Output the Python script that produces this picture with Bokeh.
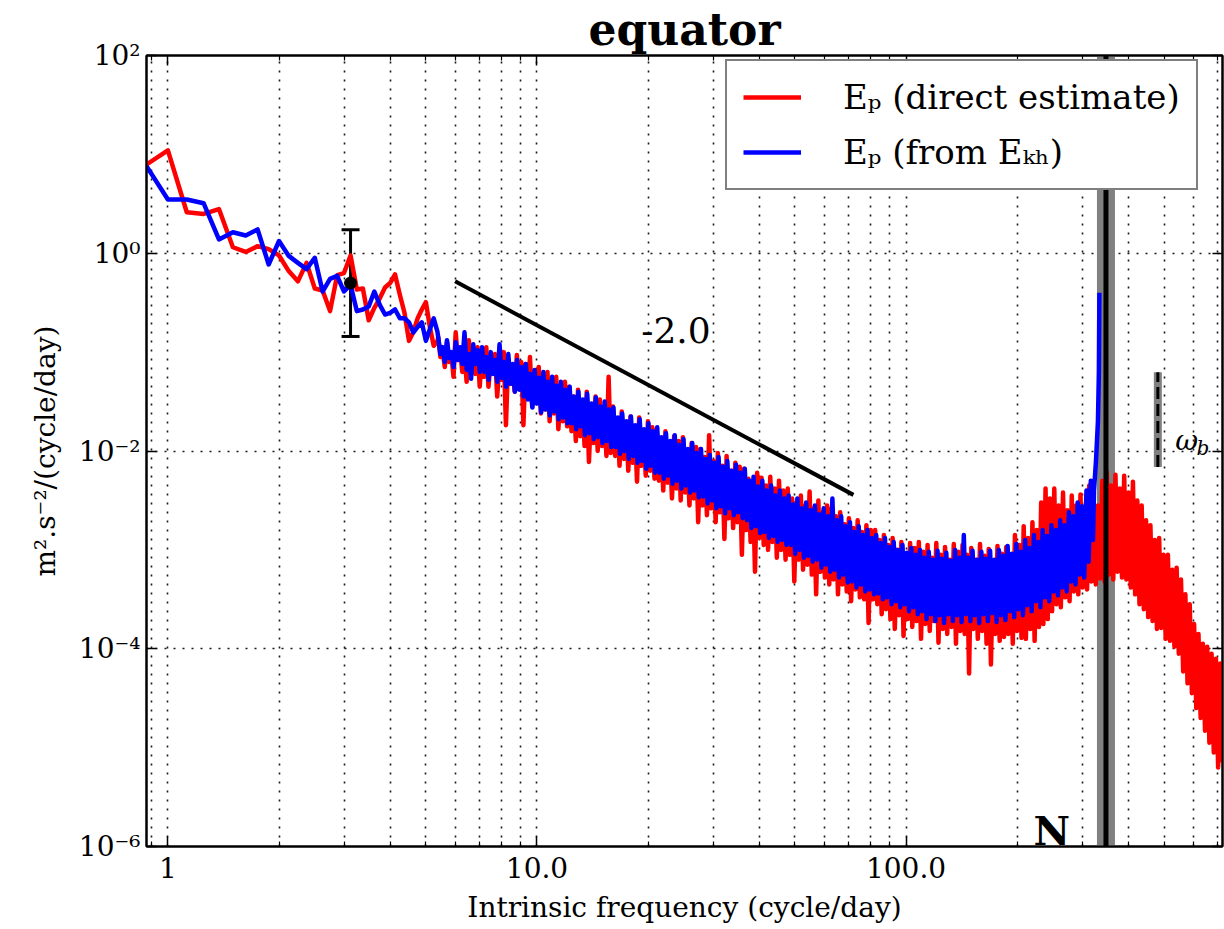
import numpy as np
from bokeh.plotting import figure
from bokeh.models import (Range1d, FixedTicker, CustomJSTickFormatter, LogAxis, Span,
                          Legend, LegendItem, Whisker, TeeHead, ColumnDataSource, Label)
from bokeh.embed import file_html
from bokeh.resources import INLINE

FONT = "DejaVu Serif"

# ---------------- data ----------------
# low-frequency spectral bins (df = 0.125 cycle/day)
freq_low = [0.875 + 0.125 * k for k in range(37)]
ep_direct_low = [7.9, 11.0, 2.6, 2.5, 2.8, 1.15, 1.03, 1.18, 1.1, 0.95,
                 0.66, 0.52, 0.80, 0.44, 0.42, 0.26, 0.60, 0.63, 0.95, 0.43,
                 0.44, 0.21, 0.28, 0.35, 0.45, 0.50, 0.61, 0.38, 0.25, 0.13,
                 0.16, 0.22, 0.27, 0.32, 0.18, 0.116, 0.13]
ep_from_ekh_low = [7.6, 3.5, 3.5, 3.2, 1.38, 1.63, 1.51, 1.74, 0.77, 1.33,
                   0.94, 0.80, 0.69, 0.90, 0.41, 0.55, 0.59, 0.41, 0.48, 0.26,
                   0.27, 0.29, 0.41, 0.30, 0.24, 0.25, 0.27, 0.22, 0.22, 0.20,
                   0.158, 0.18, 0.20, 0.13, 0.17, 0.22, 0.16]

# dense, noisy part: successive peaks and troughs (log10 values),
# the spectrum alternates peak, trough, peak, trough ... on a log-spaced grid
freq_dense_direct = np.geomspace(5.4, 720.0, 360)
ep_direct_peaks_log10 = [
    -0.85, -0.98, -0.90, -1.02, -0.80, -0.97, -1.00, -0.88, -1.05, -0.95,
    -1.00, -0.95, -1.10, -1.02, -1.12, -1.00, -1.08, -1.15, -1.03, -1.10,
    -1.12, -1.05, -1.20, -1.15, -1.28, -1.20, -1.30, -1.25, -1.38, -1.30,
    -1.35, -1.45, -1.38, -1.50, -1.40, -1.55, -1.45, -1.48, -1.60, -1.25,
    -1.55, -1.68, -1.60, -1.72, -1.65, -1.75, -1.66, -1.80, -1.70, -1.76,
    -1.78, -1.88, -1.80, -1.95, -1.85, -1.90, -1.86, -2.00, -1.92, -1.96,
    -1.98, -2.06, -1.84, -2.10, -2.02, -2.15, -2.05, -2.20, -2.12, -2.16,
    -2.18, -2.28, -2.30, -2.22, -2.27, -2.35, -2.26, -2.38, -2.30, -2.40,
    -2.38, -2.48, -2.52, -2.45, -2.55, -2.41, -2.58, -2.50, -2.62, -2.55,
    -2.58, -2.66, -2.62, -2.74, -2.68, -2.78, -2.70, -2.82, -2.75, -2.80,
    -2.80, -2.90, -2.85, -2.95, -2.88, -3.00, -2.92, -3.05, -2.93, -2.98,
    -2.92, -3.02, -2.95, -3.08, -2.93, -3.05, -2.97, -3.10, -2.94, -3.02,
    -2.95, -3.05, -2.98, -3.10, -2.94, -3.06, -2.99, -3.12, -2.96, -3.04,
    -2.97, -3.05, -2.85, -2.95, -2.76, -2.88, -2.72, -2.80, -2.52, -2.38,
    -2.48, -2.38, -2.55, -2.42, -2.60, -2.45, -2.55, -2.44, -2.62, -2.35,
    -2.45, -2.55, -2.30, -2.21, -2.35, -2.24, -2.38, -2.25, -2.42, -2.31,
    -2.50, -2.55, -2.70, -2.75, -2.90, -2.88, -3.05, -3.05, -3.20, -3.18,
    -3.30, -3.45, -3.55, -3.75, -3.85, -3.95, -3.98, -4.05, -4.10, -4.15,
]
ep_direct_troughs_log10 = [
    -1.05, -1.15, -1.10, -1.25, -1.08, -1.20, -1.30, -1.12, -1.22, -1.35,
    -1.25, -1.35, -1.20, -1.45, -1.28, -1.74, -1.32, -1.40, -1.30, -1.74,
    -1.45, -1.55, -1.50, -1.62, -1.58, -1.70, -1.62, -1.78, -1.70, -1.75,
    -1.80, -1.90, -1.85, -1.95, -2.11, -1.92, -2.00, -1.95, -2.05, -2.02,
    -2.05, -2.15, -2.08, -2.20, -2.12, -2.31, -2.15, -2.25, -2.20, -2.28,
    -2.30, -2.40, -2.32, -2.48, -2.38, -2.50, -2.42, -2.55, -2.48, -2.72,
    -2.55, -2.65, -2.58, -2.72, -2.62, -2.89, -2.68, -2.78, -2.72, -3.05,
    -2.80, -2.92, -3.22, -2.88, -2.95, -3.00, -2.92, -3.08, -3.00, -3.10,
    -3.05, -3.32, -3.10, -3.20, -3.15, -3.25, -3.45, -3.22, -3.28, -3.35,
    -3.30, -3.45, -3.35, -3.42, -3.52, -3.40, -3.48, -3.50, -3.74, -3.50,
    -3.55, -3.65, -3.60, -3.70, -3.80, -3.66, -3.87, -3.70, -3.78, -3.72,
    -3.90, -3.75, -3.82, -3.72, -3.94, -3.80, -3.85, -3.78, -3.95, -3.82,
    -3.85, -4.25, -3.80, -3.90, -3.82, -3.95, -4.16, -3.85, -3.92, -3.88,
    -3.85, -3.95, -3.82, -3.89, -3.90, -3.80, -3.92, -3.78, -3.75, -3.70,
    -3.62, -3.55, -3.58, -3.48, -3.52, -3.42, -3.45, -3.38, -3.40, -3.32,
    -3.35, -3.29, -3.32, -3.25, -3.30, -3.22, -3.28, -3.30, -3.38, -3.45,
    -3.55, -3.60, -3.68, -3.72, -3.80, -3.79, -3.90, -3.92, -3.98, -4.05,
    -4.23, -4.35, -4.45, -4.60, -4.70, -4.83, -4.95, -5.05, -5.20, -5.15,
]

freq_dense_ekh = np.geomspace(5.4, 321.0, 300)
ep_from_ekh_peaks_log10 = [
    -0.85, -0.95, -0.88, -1.00, -0.90, -0.95, -0.80, -1.02, -0.92, -0.98,
    -0.95, -1.05, -1.00, -1.08, -0.92, -1.10, -1.02, -1.12, -1.08, -1.15,
    -1.12, -1.22, -1.18, -1.26, -1.20, -1.30, -1.25, -1.34, -1.30, -1.38,
    -1.35, -1.45, -1.40, -1.48, -1.42, -1.52, -1.46, -1.55, -1.50, -1.58,
    -1.56, -1.66, -1.62, -1.70, -1.65, -1.74, -1.68, -1.78, -1.72, -1.80,
    -1.76, -1.86, -1.82, -1.90, -1.84, -1.94, -1.88, -1.98, -1.92, -2.02,
    -1.98, -2.08, -2.04, -2.12, -2.06, -2.16, -2.10, -2.20, -2.14, -2.22,
    -2.18, -2.30, -2.26, -2.36, -2.30, -2.40, -2.35, -2.45, -2.40, -2.48,
    -2.45, -2.54, -2.48, -2.58, -2.52, -2.60, -2.55, -2.64, -2.58, -2.66,
    -2.48, -2.70, -2.66, -2.76, -2.72, -2.82, -2.76, -2.85, -2.80, -2.88,
    -2.85, -2.93, -2.88, -2.97, -2.92, -3.00, -2.95, -3.03, -2.98, -3.05,
    -3.00, -3.08, -3.02, -3.10, -3.01, -3.09, -3.03, -3.11, -3.00, -3.08,
    -2.85, -3.08, -3.01, -3.10, -3.02, -3.09, -3.01, -3.10, -3.00, -3.06,
    -2.96, -3.04, -2.94, -3.02, -2.90, -2.98, -2.85, -2.92, -2.80, -2.86,
    -2.75, -2.80, -2.70, -2.75, -2.62, -2.66, -2.52, -2.56, -2.40, -2.30,
]
ep_from_ekh_troughs_log10 = [
    -1.02, -1.10, -1.06, -1.15, -1.08, -1.12, -1.18, -1.27, -1.12, -1.20,
    -1.20, -1.28, -1.22, -1.30, -1.26, -1.35, -1.32, -1.40, -1.38, -1.45,
    -1.48, -1.56, -1.52, -1.61, -1.58, -1.64, -1.60, -1.68, -1.66, -1.72,
    -1.72, -1.78, -1.75, -1.84, -1.82, -1.88, -1.86, -1.92, -1.90, -1.96,
    -1.96, -2.03, -2.00, -2.08, -2.05, -2.12, -2.10, -2.18, -2.15, -2.22,
    -2.22, -2.28, -2.25, -2.33, -2.30, -2.38, -2.35, -2.42, -2.40, -2.47,
    -2.46, -2.53, -2.50, -2.58, -2.56, -2.63, -2.58, -2.65, -2.62, -2.68,
    -2.70, -2.78, -2.76, -2.83, -2.82, -2.88, -2.86, -2.92, -2.90, -2.95,
    -2.95, -3.04, -3.00, -3.08, -3.06, -3.12, -3.10, -3.18, -3.15, -3.22,
    -3.20, -3.28, -3.25, -3.33, -3.32, -3.38, -3.35, -3.42, -3.40, -3.45,
    -3.44, -3.50, -3.48, -3.55, -3.52, -3.58, -3.55, -3.62, -3.58, -3.65,
    -3.62, -3.70, -3.65, -3.72, -3.66, -3.74, -3.65, -3.72, -3.66, -3.73,
    -3.65, -3.72, -3.66, -3.74, -3.65, -3.72, -3.64, -3.73, -3.66, -3.71,
    -3.62, -3.68, -3.60, -3.66, -3.56, -3.62, -3.52, -3.58, -3.48, -3.52,
    -3.42, -3.46, -3.38, -3.42, -3.32, -3.35, -3.25, -3.28, -3.12, -2.90,
]
# resonance of the E_kh-derived estimate just below N
freq_spike_ekh = [323.0, 327.0, 331.0, 333.0, 334.0]
ep_spike_ekh_log10 = [-2.4, -2.1, -1.7, -1.2, -0.4]

# reference marks
N_FREQ = 348.0                      # buoyancy frequency (cycle/day)
OMEGA_B = 481.0                     # omega_b (cycle/day)
omega_b_range = [0.0069, 0.0625]
errbar_freq, errbar_lo, errbar_mid, errbar_hi = 3.125, 0.144, 0.50, 1.73
slope_x = [6.0, 72.0]
slope_y = [0.52, 0.0036]
slope_text = "-2.0"

x_ticks = [1, 10, 100]
x_tick_labels = ["1", "10.0", "100.0"]
x_minor = [0.9, 2, 3, 4, 5, 6, 7, 8, 9, 20, 30, 40, 50, 60, 70, 80, 90,
           200, 300, 400, 500, 600, 700]
y_ticks = [1e-6, 1e-4, 1e-2, 1.0, 1e2]
y_tick_labels = ["10⁻⁶", "10⁻⁴", "10⁻²", "10⁰", "10²"]

legend_labels = ["Eₚ (direct estimate)", "Eₚ (from Eₖₕ)"]


def interleave(peaks, troughs):
    out = []
    for a, b in zip(peaks, troughs):
        out += [10 ** a, 10 ** b]
    return out


# ---------------- assemble series ----------------
f_red = list(freq_low) + list(freq_dense_direct)
y_red = list(ep_direct_low) + interleave(ep_direct_peaks_log10, ep_direct_troughs_log10)
f_blue = list(freq_low) + list(freq_dense_ekh) + freq_spike_ekh
y_blue = (list(ep_from_ekh_low)
          + interleave(ep_from_ekh_peaks_log10, ep_from_ekh_troughs_log10)
          + [10 ** v for v in ep_spike_ekh_log10])

# ---------------- figure ----------------
p = figure(width=1224, height=929, x_axis_type="log", y_axis_type="log",
           x_range=Range1d(0.875, 720), y_range=Range1d(1e-6, 1e2),
           output_backend="svg", toolbar_location=None,
           min_border_left=146, min_border_right=2, min_border_top=52,
           min_border_bottom=83)
p.background_fill_color = "white"
p.border_fill_color = "white"
p.outline_line_color = "black"
p.outline_line_width = 2

p.title.text = "equator"
p.title.align = "center"
p.title.text_font = FONT
p.title.text_font_size = "44px"
p.title.text_font_style = "bold"
p.title.text_color = "black"
p.title.standoff = 2

xticker = FixedTicker(ticks=x_ticks, minor_ticks=x_minor)
yticker = FixedTicker(ticks=y_ticks, minor_ticks=[])

xfmt = CustomJSTickFormatter(args=dict(vals=x_ticks, labs=x_tick_labels), code="""
const i = vals.findIndex(v => Math.abs(Math.log10(v) - Math.log10(tick)) < 1e-6);
return i >= 0 ? labs[i] : '';
""")
yfmt = CustomJSTickFormatter(args=dict(vals=y_ticks, labs=y_tick_labels), code="""
const i = vals.findIndex(v => Math.abs(Math.log10(v) - Math.log10(tick)) < 1e-6);
return i >= 0 ? labs[i] : '';
""")
blank = CustomJSTickFormatter(code="return '';")

xa = p.xaxis[0]
ya = p.yaxis[0]
xa.ticker = xticker
xa.formatter = xfmt
ya.ticker = yticker
ya.formatter = yfmt
xa.axis_label = "Intrinsic frequency (cycle/day)"
ya.axis_label = "m².s⁻²/(cycle/day)"

top_ax = LogAxis(ticker=xticker, formatter=blank)
right_ax = LogAxis(ticker=yticker, formatter=blank)
p.add_layout(top_ax, "above")
p.add_layout(right_ax, "right")

for ax in [xa, ya, top_ax, right_ax]:
    ax.axis_line_width = 2
    ax.axis_line_color = "black"
    ax.major_tick_in = 10
    ax.major_tick_out = 0
    ax.minor_tick_in = 5
    ax.minor_tick_out = 0
    ax.major_tick_line_width = 1.5
    ax.minor_tick_line_width = 1.2
    ax.major_tick_line_color = "black"
    ax.minor_tick_line_color = "black"
    ax.major_label_text_font = FONT
    ax.major_label_text_font_size = "28px"
    ax.major_label_text_color = "black"
    ax.axis_label_text_font = FONT
    ax.axis_label_text_font_size = "28px"
    ax.axis_label_text_font_style = "normal"
    ax.axis_label_text_color = "black"
for ax in [top_ax, right_ax]:
    ax.major_label_standoff = 0
    ax.major_label_text_font_size = "0px"
xa.major_label_standoff = 10
ya.major_label_standoff = 6
xa.axis_label_standoff = 10
ya.axis_label_standoff = 14

p.xgrid.ticker = xticker
p.ygrid.ticker = yticker
for g in [p.xgrid, p.ygrid]:
    g.grid_line_color = "black"
    g.grid_line_dash = "2 7"
    g.grid_line_width = 1.6
    g.grid_line_alpha = 0.9
p.xgrid.minor_grid_line_color = "black"
p.xgrid.minor_grid_line_dash = "2 7"
p.xgrid.minor_grid_line_width = 1.6
p.xgrid.minor_grid_line_alpha = 0.9

# N band (under the spectra)
p.add_layout(Span(location=N_FREQ, dimension="height", line_color="#808080",
                  line_width=18, level="underlay"))

# spectra
r_red = p.line(f_red, y_red, line_color="red", line_width=4.5, line_join="round")
r_blue = p.line(f_blue, y_blue, line_color="blue", line_width=4.5, line_join="round")

# omega_b marker
p.line([OMEGA_B, OMEGA_B], omega_b_range, line_color="#808080", line_width=8)
p.line([OMEGA_B, OMEGA_B], omega_b_range, line_color="black", line_width=3,
       line_dash="12 5")

# slope reference
p.line(slope_x, slope_y, line_color="black", line_width=4)

# error bar
eb_src = ColumnDataSource(dict(base=[errbar_freq], lower=[errbar_lo], upper=[errbar_hi]))
p.add_layout(Whisker(base="base", lower="lower", upper="upper", source=eb_src,
                     line_color="black", line_width=3,
                     upper_head=TeeHead(size=18, line_width=3, line_color="black"),
                     lower_head=TeeHead(size=18, line_width=3, line_color="black")))
p.scatter([errbar_freq], [errbar_mid], size=12, color="black")

# N line
p.add_layout(Span(location=N_FREQ, dimension="height", line_color="black", line_width=5))

# texts
p.add_layout(Label(x=23.8, y=0.166, text=slope_text, text_font=FONT,
                   text_font_size="36px", text_align="center",
                   text_baseline="middle", text_color="black"))
p.add_layout(Label(x=248, y=1.44e-6, text="N", text_font=FONT, text_font_size="40px",
                   text_font_style="bold", text_align="center",
                   text_baseline="middle", text_color="black"))
p.add_layout(Label(x=536, y=0.0129, text="ω", text_font=FONT, text_font_size="28px",
                   text_font_style="italic", text_align="left",
                   text_baseline="middle", text_color="black"))
p.add_layout(Label(x=612, y=0.0106, text="b", text_font=FONT, text_font_size="20px",
                   text_font_style="italic", text_align="left",
                   text_baseline="middle", text_color="black"))

legend = Legend(items=[LegendItem(label=legend_labels[0], renderers=[r_red]),
                       LegendItem(label=legend_labels[1], renderers=[r_blue])],
                location=(579, 656), margin=0)
legend.border_line_color = "black"
legend.border_line_width = 2
legend.background_fill_color = "white"
legend.background_fill_alpha = 1.0
legend.label_text_font = FONT
legend.label_text_font_size = "34px"
legend.label_text_color = "black"
legend.glyph_width = 58
legend.glyph_height = 40
legend.label_height = 40
legend.label_standoff = 42
legend.spacing = 15
legend.padding = 16
p.add_layout(legend)

open("out.html", "w").write(file_html(p, INLINE))
